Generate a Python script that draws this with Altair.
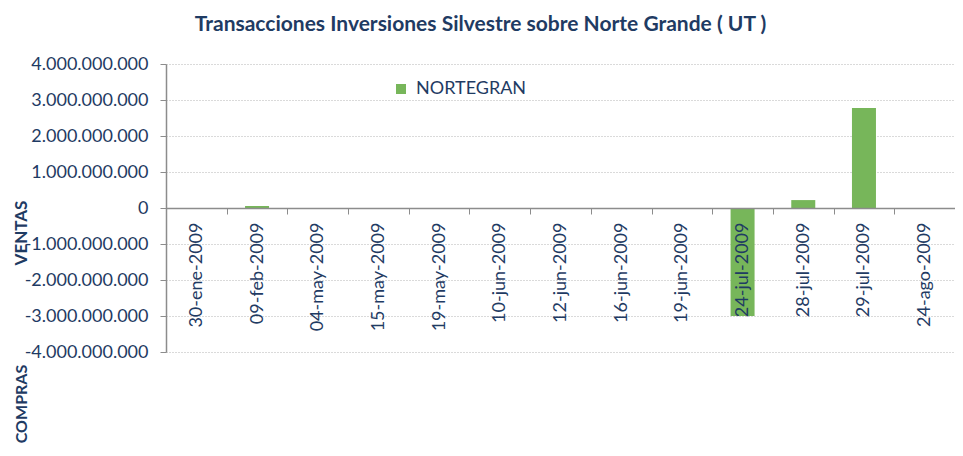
import altair as alt
import pandas as pd

# ---- data ----
fechas = [
    "30-ene-2009", "09-feb-2009", "04-may-2009", "15-may-2009", "19-may-2009",
    "10-jun-2009", "12-jun-2009", "16-jun-2009", "19-jun-2009", "24-jul-2009",
    "28-jul-2009", "29-jul-2009", "24-ago-2009",
]
montos = [
    0, 55_000_000, 0, 0, 0,
    0, 0, 0, 0, -3_000_000_000,
    220_000_000, 2_780_000_000, 0,
]
serie = ["NORTEGRAN"] * len(fechas)
y_ticks = [-4e9, -3e9, -2e9, -1e9, 0, 1e9, 2e9, 3e9, 4e9]
side_top = ["VENTAS"]
side_bottom = ["COMPRAS"]
titulo = "Transacciones Inversiones Silvestre sobre Norte Grande ( UT )"

df = pd.DataFrame({"fecha": fechas, "monto": montos, "serie": serie})

NAVY = "#1F3B63"
GREEN = "#77B65A"
GRAY = "#8C8C8C"
FONT = "Lato"

label_expr = "replace(join(split(format(datum.value, ','), ','), '.'), '\u2212', '-')"

bars = alt.Chart(df).mark_bar(size=24).encode(
    x=alt.X(
        "fecha:N",
        sort=fechas,
        scale=alt.Scale(paddingInner=0, paddingOuter=0),
        axis=alt.Axis(
            title=None,
            labelAngle=270,
            labelFont=FONT,
            labelFontSize=18,
            labelColor=NAVY,
            labelPadding=8,
            tickBand="extent",
            tickSize=6,
            tickColor=GRAY,
            domainColor=GRAY,
            domainWidth=1.5,
            offset=-144,
            zindex=1,
            grid=False,
        ),
    ),
    y=alt.Y(
        "monto:Q",
        scale=alt.Scale(domain=[-4e9, 4e9], nice=False),
        axis=alt.Axis(
            title=None,
            values=y_ticks,
            labelExpr=label_expr,
            labelFont=FONT,
            labelFontSize=18,
            labelColor=NAVY,
            labelPadding=12,
            tickSize=6,
            tickColor=GRAY,
            domainColor=GRAY,
            domainWidth=1.5,
            gridColor="#B5B5B5",
            gridDash=[1, 2],
            zindex=0,
        ),
    ),
    color=alt.Color(
        "serie:N",
        scale=alt.Scale(range=[GREEN]),
        legend=alt.Legend(
            title=None,
            orient="none",
            legendX=226,
            legendY=16,
            padding=0,
            symbolType="square",
            symbolSize=100,
            symbolStrokeWidth=0,
            labelFont=FONT,
            labelFontSize=18,
            labelColor=NAVY,
            labelOffset=6,
        ),
    ),
)

ventas = alt.Chart(pd.DataFrame({"t": side_top})).mark_text(
    angle=270, font=FONT, fontSize=17, fontWeight="bold", color=NAVY,
    align="center", baseline="middle",
).encode(text="t:N", x=alt.value(-144), y=alt.value(169))

compras = alt.Chart(pd.DataFrame({"t": side_bottom})).mark_text(
    angle=270, font=FONT, fontSize=16, fontWeight="bold", color=NAVY,
    align="center", baseline="middle",
).encode(text="t:N", x=alt.value(-144), y=alt.value(340))

chart = alt.layer(bars, ventas, compras).properties(
    width=789,
    height=288,
    padding={"left": 158, "top": 56, "right": 0, "bottom": 96},
    autosize=alt.AutoSizeParams(type="none"),
    title=alt.TitleParams(
        text=titulo,
        font=FONT,
        fontSize=21,
        fontWeight="bold",
        color=NAVY,
        anchor="middle",
        dx=-80,
        offset=20,
    ),
).configure_view(stroke=None)

chart.save("out.html", embed_options={"renderer": "svg", "actions": False})
